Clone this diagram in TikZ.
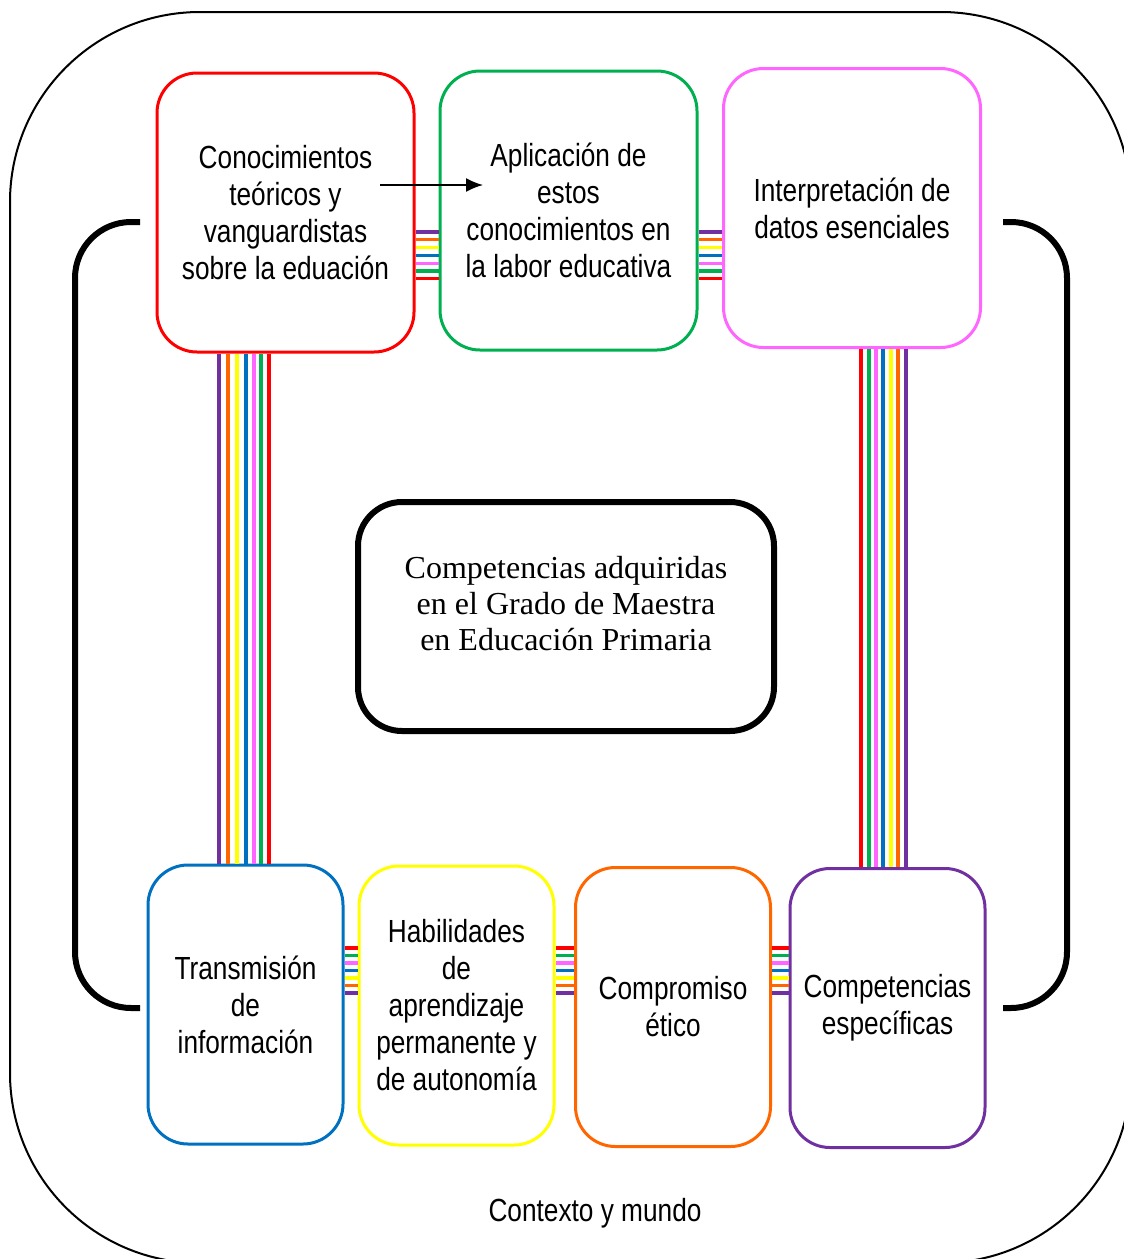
\documentclass[tikz,border=0pt]{standalone}
\usepackage{fontspec}
\setmainfont{Liberation Serif}
\newfontfamily\narrowsans[FakeStretch=0.82]{Liberation Sans}
\usetikzlibrary{arrows.meta}
\definecolor{cred}{HTML}{FF0000}
\definecolor{cgreen}{HTML}{00B050}
\definecolor{cpink}{HTML}{FF66FF}
\definecolor{cblue}{HTML}{0070C0}
\definecolor{cyellow}{HTML}{FFFF00}
\definecolor{corange}{HTML}{FF6600}
\definecolor{cpurple}{HTML}{7030A0}

\begin{document}
\begin{tikzpicture}[x=0.5pt, y=-0.5pt,
		box/.style={draw, rounded corners=20pt, line width=1.5pt, align=center, inner sep=0pt, font=\narrowsans\fontsize{16}{18.5}\selectfont},
		topbox/.style={box, minimum width=128.5pt, minimum height=139.5pt},
		lowbox/.style={box, minimum width=97.5pt, minimum height=139.5pt},
		band/.style={line width=1.6pt},
		bracket/.style={line width=3pt, rounded corners=28pt}]
			\useasboundingbox (0, 0) rectangle (1124, 1259);
			\clip (0, 0) rectangle (1124, 1259);
			\draw [line width=1pt, rounded corners=95pt] (10, 12) rectangle (1131, 1263);
			\draw [bracket] (140, 222) -- (75, 222) -- (75, 1008) -- (140, 1008);
			\draw [bracket] (1003, 222) -- (1067, 222) -- (1067, 1008) -- (1003, 1008);
			\draw (285.5, 212.5) node [topbox, draw=cred] (c) {Conocimientos\\te\'oricos y\\vanguardistas\\sobre la eduaci\'on};
			\draw (568.5, 210.5) node [topbox, draw=cgreen] (a) {Aplicaci\'on de\\estos\\conocimientos en\\la labor educativa};
			\draw (852, 208) node [topbox, draw=cpink] (i) {Interpretaci\'on de\\datos esenciales};
			\draw (245.5, 1004.5) node [lowbox, draw=cblue] (t) {Transmisi\'on\\de\\informaci\'on};
			\draw (456.5, 1005.5) node [lowbox, draw=cyellow] (h) {Habilidades\\de\\aprendizaje\\permanente y\\de autonom\'ia};
			\draw (673, 1007) node [lowbox, draw=corange] (e) {Compromiso\\\'etico};
			\draw (887.5, 1008) node [lowbox, draw=cpurple] (s) {Competencias\\espec\'ificas};
			\draw (566, 616.5) node [draw, line width=3pt, rounded corners=22pt, minimum width=208pt, minimum height=114.5pt, align=center, font=\fontsize{16}{18}\selectfont] (m) {Competencias adquiridas\\en el Grado de Maestra\\en Educaci\'on Primaria\\[-4.5pt]};
			\draw (595, 1213) node [font=\narrowsans\fontsize{16}{18.5}\selectfont] (w) {Contexto y mundo};
			\foreach \y/\col in {232/cpurple, 239.8/corange, 247.6/cyellow, 255.4/cblue, 263.2/cpink, 271/cgreen, 278.8/cred} {
				\draw [band, \col] (c.east |- 0,\y) -- (a.west |- 0,\y);
				\draw [band, \col] (a.east |- 0,\y) -- (i.west |- 0,\y);
			}
			\foreach \x/\col in {219/cpurple, 228/corange, 237/cyellow, 246/cblue, 254/cpink, 261/cgreen, 269/cred}
				\draw [band, \col] (c.south -| \x,0) -- (t.north -| \x,0);
			\foreach \x/\col in {861/cred, 869/cgreen, 876/cpink, 883/cblue, 891/cyellow, 898/corange, 906/cpurple}
				\draw [band, \col] (i.south -| \x,0) -- (s.north -| \x,0);
			\foreach \y/\col in {948/cred, 955.5/cgreen, 963/cpink, 970.5/cblue, 978/cyellow, 985.5/corange, 993/cpurple} {
				\draw [band, \col] (t.east |- 0,\y) -- (h.west |- 0,\y);
				\draw [band, \col] (h.east |- 0,\y) -- (e.west |- 0,\y);
				\draw [band, \col] (e.east |- 0,\y) -- (s.west |- 0,\y);
			}
			\coordinate (p) at (380, 185);
			\coordinate (q) at (483, 185);
			\path [-{Latex[length=8.5pt, width=7pt]}, line width=0.8pt] (p) edge (q);
		\end{tikzpicture}
\end{document}
